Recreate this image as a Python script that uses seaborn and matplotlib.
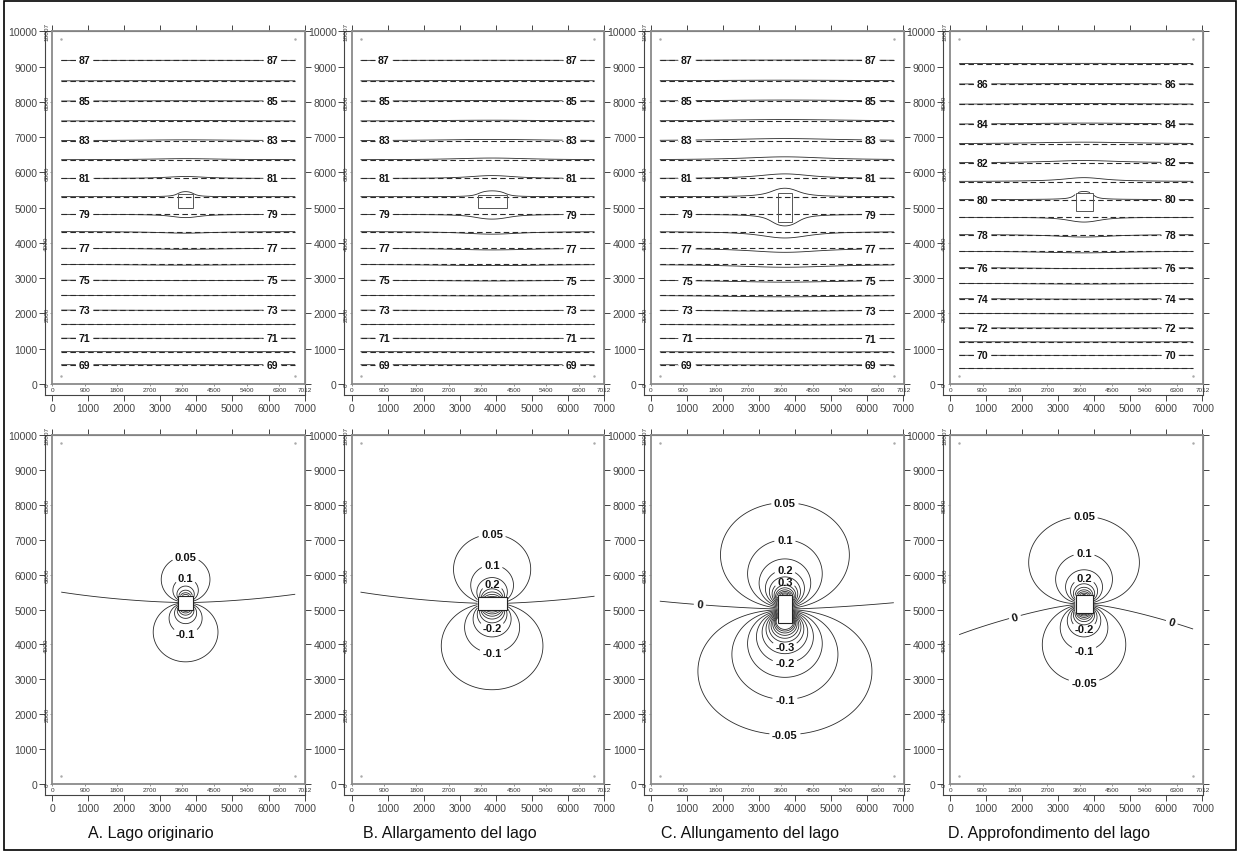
import numpy as np
import matplotlib
matplotlib.use("Agg")
import matplotlib.pyplot as plt
import seaborn as sns
from matplotlib.patches import Rectangle

sns.set_theme(style="white")
plt.rcParams['font.family'] = ['Liberation Sans', 'DejaVu Sans']
plt.rcParams['contour.negative_linestyle'] = 'solid'

# ------------------------------------------------------------------ data
panel_titles = ["A. Lago originario", "B. Allargamento del lago",
                "C. Allungamento del lago", "D. Approfondimento del lago"]

# regional piezometric contours (m) and the y (m) where they cross the map
head_levels = [69, 70, 71, 72, 73, 74, 75, 76, 77, 78,
               79, 80, 81, 82, 83, 84, 85, 86, 87]
head_level_y_abc = [547, 926, 1295, 1700, 2096, 2521, 2946, 3399, 3853, 4306,
                    4788, 5334, 5836, 6374, 6892, 7459, 8008, 8592, 9178]
head_level_y_d = [445, 822, 1198, 1595, 2003, 2408, 2853, 3306, 3776, 4229,
                  4722, 5232, 5742, 6261, 6827, 7346, 7924, 8490, 9093]
labeled_heads = [[69, 71, 73, 75, 77, 79, 81, 83, 85, 87],
                 [69, 71, 73, 75, 77, 79, 81, 83, 85, 87],
                 [69, 71, 73, 75, 77, 79, 81, 83, 85, 87],
                 [70, 72, 74, 76, 78, 80, 82, 84, 86]]
head_label_x = [[900, 6100], [900, 6100], [1000, 6100], [900, 6100]]

# lake footprint (m) for each scenario
lake_x0 = [3500, 3500, 3520, 3480]
lake_x1 = [3900, 4300, 3920, 3950]
lake_y0 = [5000, 5000, 4600, 4900]
lake_y1 = [5400, 5350, 5420, 5420]

# head change read on the maps: top of the +0.05 loop, bottom of the -0.05 loop,
# height where the 0 line meets the left edge of the model
top_005_y = [6520, 7155, 8066, 7670]
bottom_005_y = [3500, 2700, 1408, 2900]
zero_left_y = [5500, 5500, 5240, 4280]

# head-difference contours (m)
diff_levels = [-0.6, -0.55, -0.5, -0.45, -0.4, -0.35, -0.3, -0.25, -0.2, -0.15,
               -0.1, -0.05, 0.0, 0.05, 0.1, 0.15, 0.2, 0.25, 0.3, 0.35,
               0.4, 0.45, 0.5, 0.55, 0.6]
diff_labels = [[0.05, 0.1, -0.1],
               [0.05, 0.1, 0.2, -0.2, -0.1],
               [0.05, 0.1, 0.2, 0.3, -0.3, -0.2, -0.1, -0.05],
               [0.05, 0.1, 0.2, -0.2, -0.1, -0.05]]
zero_label_x = [[], [], [1350], [1700, 6300]]

outer_xticks = [0, 1000, 2000, 3000, 4000, 5000, 6000, 7000]
outer_yticks = [0, 1000, 2000, 3000, 4000, 5000, 6000, 7000, 8000, 9000, 10000]
inner_xticks = [0, 900, 1800, 2700, 3600, 4500, 5400, 6300, 7012]
inner_yticks = [0, 2000, 4000, 6000, 8000, 10007]

# model domain and computation grid
dom_w, dom_h = 7012.0, 10007.0
grid_x = np.linspace(250, 6740, 261)
grid_y = np.linspace(230, 9770, 381)

# ------------------------------------------------------------------ field model
KS = np.pi / (2 * dom_h)


def dip_col(x, y, xs, ys):
    # y-dipole with constant-head images at y=0 and y=dom_h
    w1 = (x - xs) + 1j * (y - ys)
    w2 = (x - xs) + 1j * (y + ys)
    return -np.imag(KS / np.tanh(KS * w1)) - np.imag(KS / np.tanh(KS * w2))


def mono_col(x, y, xs, ys):
    w1 = (x - xs) + 1j * (y - ys)
    w2 = (x - xs) + 1j * (y + ys)
    return (np.log(np.abs(np.sinh(KS * w2)) + 1e-12)
            - np.log(np.abs(np.sinh(KS * w1)) + 1e-12))


def point_dip(x, y, xs, ys):
    dx, dy = x - xs, y - ys
    return dy / (dx * dx + dy * dy + 1e-9)


def fields(i, x, y):
    x0, x1, y0, y1 = lake_x0[i], lake_x1[i], lake_y0[i], lake_y1[i]
    xc, yc = (x0 + x1) / 2, (y0 + y1) / 2
    base = dip_col(x, y, xc, yc)
    mon = mono_col(x, y, xc, yc)
    # finite lake: spread the direct source over the lake
    sx = np.linspace(xc - 0.3 * (x1 - x0), xc + 0.3 * (x1 - x0), 5)
    sy = np.linspace(yc - 0.3 * (y1 - y0), yc + 0.3 * (y1 - y0), 5)
    spread = np.zeros_like(base)
    for a in sx:
        for b in sy:
            spread = spread + point_dip(x, y, a, b) / 25.0
    base = base + spread - point_dip(x, y, xc, yc)
    return base, mon, xc, yc


def strengths(i):
    xc = (lake_x0[i] + lake_x1[i]) / 2
    pts_x = np.array([xc, xc, grid_x[0]])
    pts_y = np.array([top_005_y[i], bottom_005_y[i], zero_left_y[i]])
    b, mo, _, _ = fields(i, pts_x, pts_y)
    A = np.array([[b[0], 0.0, mo[0]],
                  [0.0, b[1], mo[1]],
                  [b[2], 0.0, mo[2]] if b[2] > 0 else [0.0, b[2], mo[2]]])
    return np.linalg.solve(A, np.array([0.05, -0.05, 0.0]))


X, Y = np.meshgrid(grid_x, grid_y)


def anomaly(i):
    p_up, p_dn, q = strengths(i)
    base, mon, xc, yc = fields(i, X, Y)
    d = base * np.where(base > 0, p_up, p_dn) + q * mon
    inside = ((X >= lake_x0[i]) & (X <= lake_x1[i]) &
              (Y >= lake_y0[i]) & (Y <= lake_y1[i]))
    return np.ma.array(d, mask=inside), xc, yc


# ------------------------------------------------------------------ layout
W_PX, H_PX = 1238, 853
fig = plt.figure(figsize=(W_PX / 100, H_PX / 100), dpi=100)
col_left = [45 + 299.3 * k for k in range(4)]
ax_w = 260
rows = [(32, 396, -310), (436, 796, -320)]

fig.patches.append(Rectangle((4 / W_PX, 2 / H_PX), 1232 / W_PX, 849 / H_PX,
                             transform=fig.transFigure, fill=False,
                             edgecolor='black', linewidth=1.2))

line_col = '#2a2a2a'


def fmt_diff(v):
    s = f"{v:g}"
    return "0" if s in ("0", "-0") else s


def setup_axes(ax, ybot):
    ax.set_xlim(-200, dom_w)
    ax.set_ylim(ybot, dom_h)
    ax.set_xticks(outer_xticks)
    ax.set_yticks(outer_yticks)
    ax.tick_params(axis='both', direction='out', length=4, width=0.7,
                   color='#444', labelsize=7.5, labelcolor='#444', pad=1.5,
                   bottom=True, left=True, top=True, right=True,
                   labeltop=False, labelright=False)
    for s in ax.spines.values():
        s.set_color('#444')
        s.set_linewidth(0.8)
    ax.set_facecolor('white')
    inn = ax.inset_axes([0, 0, dom_w, dom_h], transform=ax.transData)
    inn.set_xlim(0, dom_w)
    inn.set_ylim(0, dom_h)
    inn.patch.set_alpha(0)
    inn.set_xticks(inner_xticks)
    inn.set_xticklabels([str(v) for v in inner_xticks])
    inn.set_yticks(inner_yticks)
    inn.set_yticklabels([str(v) for v in inner_yticks], rotation=90, va='center')
    inn.tick_params(axis='both', direction='out', length=1.5, width=0.5,
                    color='#666', labelsize=4.6, labelcolor='#333', pad=0.6,
                    bottom=True, left=True, top=False, right=False)
    for s in inn.spines.values():
        s.set_color('#8a8a8a')
        s.set_linewidth(1.3)
    ax.scatter([grid_x[0], grid_x[-1], grid_x[0], grid_x[-1]],
               [grid_y[0], grid_y[0], grid_y[-1], grid_y[-1]],
               s=0.6, color='#aaaaaa', zorder=2)


def bold(txts):
    for tx in txts:
        tx.set_fontweight('bold')
        tx.set_color('#111')


for i in range(4):
    d, xc, yc = anomaly(i)
    lvl_y = head_level_y_d if i == 3 else head_level_y_abc
    h0 = np.polyval(np.polyfit(lvl_y, head_levels, 3), Y)
    h = h0 - d
    x0, x1, y0, y1 = lake_x0[i], lake_x1[i], lake_y0[i], lake_y1[i]

    # ---------------- top: piezometric surface
    t, b, ybot = rows[0]
    ax = fig.add_axes([col_left[i] / W_PX, (H_PX - b) / H_PX, ax_w / W_PX, (b - t) / H_PX])
    setup_axes(ax, ybot)
    lab = [v for v in head_levels if v in labeled_heads[i]]
    unl = [v for v in head_levels if v not in labeled_heads[i]]
    pos = [(lx, float(np.interp(lv, head_levels, lvl_y)))
           for lv in lab for lx in head_label_x[i]]
    dash = [(0, (5, 3))]
    ax.contour(X, Y, h0, levels=unl, colors=line_col, linewidths=0.8, linestyles=dash)
    ax.contour(X, Y, h, levels=unl, colors=line_col, linewidths=0.6)
    cs0 = ax.contour(X, Y, h0, levels=lab, colors=line_col, linewidths=0.8, linestyles=dash)
    cs1 = ax.contour(X, Y, h, levels=lab, colors=line_col, linewidths=0.6)
    hidden = cs0.clabel(manual=pos, inline=True, inline_spacing=3, fmt='%d', fontsize=7.5)
    for tx in hidden:
        tx.set_visible(False)
    bold(cs1.clabel(manual=pos, inline=True, inline_spacing=3, fmt='%d', fontsize=7.5))
    ax.add_patch(Rectangle((x0, y0), x1 - x0, y1 - y0, fill=False,
                           edgecolor='#555', linewidth=0.7, zorder=3))

    # ---------------- bottom: head change
    t, b, ybot = rows[1]
    ax = fig.add_axes([col_left[i] / W_PX, (H_PX - b) / H_PX, ax_w / W_PX, (b - t) / H_PX])
    setup_axes(ax, ybot)
    ix = int(np.argmin(np.abs(grid_x - xc)))
    col = d[:, ix]
    valid = ~np.ma.getmaskarray(col)
    cvals = col.filled(0)
    for lv in diff_levels:
        labeled = (lv in diff_labels[i]) or (lv == 0.0 and zero_label_x[i])
        cs = ax.contour(X, Y, d, levels=[lv], colors=line_col, linewidths=0.6)
        if not labeled:
            continue
        if lv == 0.0:
            man = [(zx, yc) for zx in zero_label_x[i]]
        elif lv > 0:
            sel = (grid_y > y1) & valid & (cvals >= lv)
            man = [(xc, grid_y[sel].max() if sel.any() else y1 + 300)]
        else:
            sel = (grid_y < y0) & valid & (cvals <= lv)
            man = [(xc, grid_y[sel].min() if sel.any() else y0 - 300)]
        bold(cs.clabel(manual=man, inline=True, inline_spacing=3, fmt=fmt_diff,
                       fontsize=8))
    ax.add_patch(Rectangle((x0, y0), x1 - x0, y1 - y0, facecolor='white',
                           edgecolor='#222', linewidth=0.8, zorder=3))

    fig.text((col_left[i] + 106) / W_PX, (H_PX - 834) / H_PX, panel_titles[i],
             ha='center', va='center', fontsize=11.5, color='#111')

fig.savefig("out.png", dpi=100)
